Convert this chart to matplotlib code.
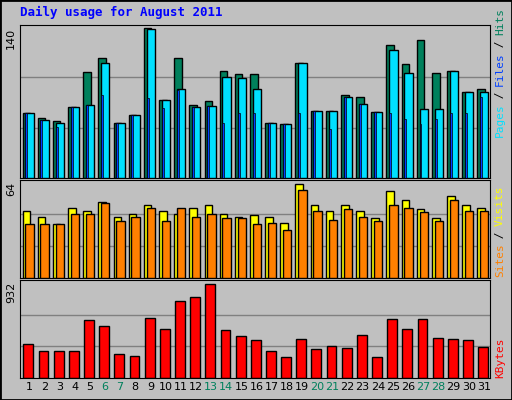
import matplotlib
matplotlib.use("Agg")
import matplotlib.pyplot as plt
import numpy as np

days = list(range(1, 32))
weekend = [6, 7, 13, 14, 20, 21, 27, 28]
hits = [60, 56, 53, 66, 98, 111, 51, 58, 139, 72, 111, 68, 71, 99, 96, 96, 51, 50, 107, 62, 62, 77, 75, 61, 123, 106, 128, 97, 99, 80, 83]
files = [60, 54, 51, 66, 68, 107, 51, 58, 138, 72, 83, 66, 67, 94, 93, 83, 51, 50, 107, 62, 62, 75, 69, 61, 119, 97, 64, 64, 99, 80, 80]
pages = [60, 54, 47, 66, 68, 77, 51, 58, 74, 65, 82, 66, 67, 51, 60, 60, 51, 50, 60, 62, 45, 75, 69, 61, 60, 55, 50, 55, 60, 60, 75]
sites = [45, 41, 36, 47, 45, 51, 41, 43, 49, 45, 43, 47, 49, 43, 41, 42, 41, 37, 63, 49, 45, 49, 45, 40, 58, 52, 46, 40, 55, 49, 47]
visits = [36, 36, 36, 43, 43, 50, 38, 41, 47, 38, 47, 41, 43, 40, 40, 36, 37, 32, 59, 45, 39, 46, 41, 38, 49, 47, 44, 38, 52, 45, 45]
kbytes = [334, 263, 263, 263, 567, 506, 233, 213, 588, 486, 760, 800, 922, 476, 415, 375, 263, 203, 385, 284, 314, 294, 425, 203, 577, 486, 577, 395, 385, 375, 304]

BG = "#C0C0C0"
fig = plt.figure(figsize=(5.12, 4.0), dpi=100, facecolor=BG)
W, H = 512, 400
def ax_at(x0, y0, x1, y1):
    a = fig.add_axes([x0 / W, 1 - y1 / H, (x1 - x0) / W, (y1 - y0) / H])
    a.set_facecolor(BG)
    a.set_xlim(0.5, 31.5)
    a.set_xticks([])
    a.set_yticks([])
    for s in a.spines.values():
        s.set_color("black")
    return a

x = np.array(days)
ec = dict(edgecolor="black", linewidth=1)

a1 = ax_at(20, 25, 490, 178)
a1.set_ylim(0, 140 * 150 / 148)
for g in (140 / 3, 280 / 3):
    a1.axhline(g, color="#808080", lw=1, zorder=0)
a1.bar(x - 0.33, hits, width=0.5, align="edge", color="#00805C", **ec, zorder=2)
a1.bar(x - 0.15, files, width=0.55, align="edge", color="#00E0FF", **ec, zorder=3)
a1.bar(x - 0.15, pages, width=0.13, align="edge", color="#0040FF", edgecolor="black", linewidth=0.5, zorder=4)

a2 = ax_at(20, 180, 490, 278)
a2.set_ylim(0, 64 * 95 / 93)
for g in (64 / 3, 128 / 3):
    a2.axhline(g, color="#808080", lw=1, zorder=0)
a2.bar(x - 0.33, sites, width=0.5, align="edge", color="#FFFF00", **ec, zorder=2)
a2.bar(x - 0.15, visits, width=0.55, align="edge", color="#FF8000", **ec, zorder=3)

a3 = ax_at(20, 280, 490, 378)
a3.set_ylim(0, 932 * 95 / 92)
for g in (932 / 3, 1864 / 3):
    a3.axhline(g, color="#808080", lw=1, zorder=0)
a3.bar(x + 0.05, kbytes, width=0.65, color="#FF0000", **ec, zorder=2)
for d in days:
    a3.text(d + 0.1, -0.04, str(d), transform=a3.get_xaxis_transform(), ha="center", va="top",
            fontsize=8, color="#00805C" if d in weekend else "black")

fig.text(20 / W, 1 - 12 / H, "Daily usage for August 2011", color="#0000FF", fontsize=9,
         fontweight="bold", family="DejaVu Sans Mono", va="center")
for lab, y in (("140", 28), ("64", 182), ("932", 282)):
    fig.text(11 / W, 1 - y / H, lab, rotation=90, fontsize=8, ha="center", va="top")

def vlabel(parts, ybot):
    y = ybot
    for t, c in parts:
        fig.text(500 / W, 1 - y / H, t, rotation=90, color=c, fontsize=8,
                 family="DejaVu Sans Mono", ha="center", va="bottom")
        y -= len(t) * 6.4
vlabel([("Pages", "#00E0FF"), (" / ", "black"), ("Files", "#0040FF"), (" / ", "black"), ("Hits", "#00805C")], 137)
vlabel([("Sites", "#FF8000"), (" / ", "black"), ("Visits", "#FFFF00")], 277)
vlabel([("KBytes", "#FF0000")], 378)

fig.patches.append(plt.Rectangle((0, 0), 1, 1, transform=fig.transFigure, fill=False,
                                 edgecolor="black", linewidth=2))
fig.savefig("out.png", dpi=100, facecolor=BG)
